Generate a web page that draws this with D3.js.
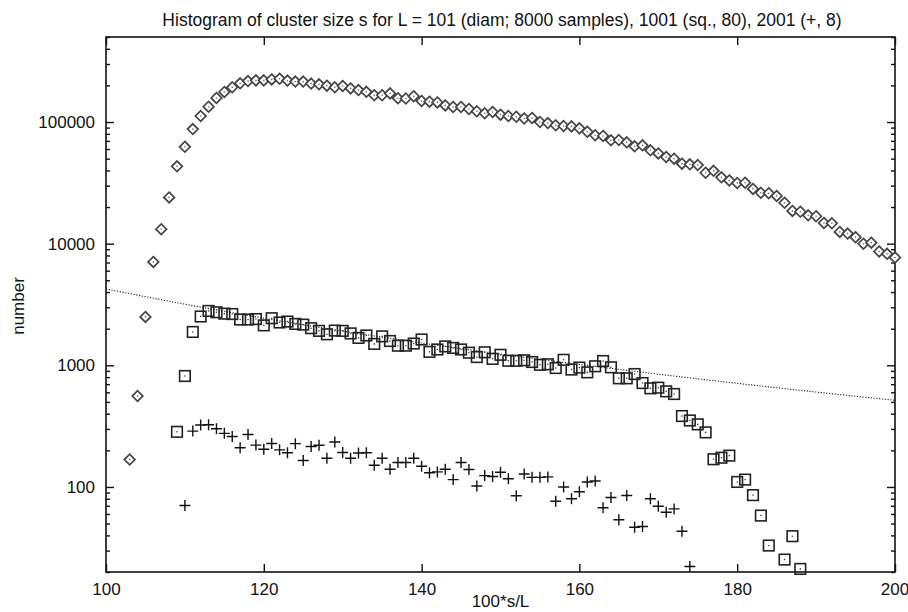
<!DOCTYPE html>
<html>
<head>
<meta charset="utf-8">
<script src="https://cdn.jsdelivr.net/npm/d3@7"></script>
<style>
body { margin: 0; background: #fff; }
text { font-family: "Liberation Sans", Arial, sans-serif; fill: #111; }
</style>
</head>
<body>
<svg id="chart" width="908" height="612"></svg>
<script>
// L = 101, diamonds, s from 103 to 200
var diamFirst = 103;
var diamN = [168, 559, 2500, 7080, 13150, 24000, 43200, 62600, 87500, 112000,
    133600, 157700, 176700, 193000, 208000, 217000, 220000, 220000, 224000, 227000,
    219000, 215000, 215000, 207000, 204000, 199000, 193000, 198000, 189000, 183000,
    177000, 166000, 166000, 172000, 157000, 156000, 163000, 149000, 147000, 145000,
    137000, 133000, 133000, 128000, 122500, 118000, 121000, 115000, 112000, 110500,
    107000, 108000, 100000, 98000, 94000, 92700, 92100, 88700, 83200, 77800,
    76800, 70700, 71100, 68100, 63100, 64300, 58500, 55200, 51600, 50000,
    45500, 44900, 44300, 38300, 39700, 35100, 33100, 31500, 31700, 28200,
    26200, 26000, 24700, 21700, 18600, 18300, 17100, 16800, 14800, 14700,
    12500, 12100, 11300, 10000, 10200, 8630, 8250, 7700];

// L = 1001, squares, s from 109 to 188 (185 empty)
var sqFirst = 109;
var sqN = [284, 817, 1880, 2520, 2800, 2730, 2660, 2640, 2380, 2380,
    2400, 2130, 2440, 2250, 2290, 2190, 2160, 2020, 1920, 1800,
    1930, 1920, 1830, 1680, 1760, 1500, 1730, 1585, 1450, 1450,
    1510, 1630, 1290, 1350, 1430, 1390, 1350, 1270, 1170, 1280,
    1130, 1220, 1090, 1090, 1100, 1065, 1010, 1020, 950, 1110,
    923, 958, 875, 982, 1085, 963, 782, 782, 848, 715,
    647, 655, 611, 581, 383, 352, 327, 281, 169, 174,
    181, 110, 115, 85.7, 58.2, 33, null, 25.3, 39.4, 21.2];

// L = 2001, crosses, s from 110 to 174
var plusFirst = 110;
var plusN = [70.4, 288, 323, 325, 301, 276, 260, 210, 270, 221,
    204, 228, 202, 191, 227, 165, 215, 220, 172, 234,
    192, 172, 190, 191, 151, 172, 140, 159, 159, 172,
    148, 131, 133, 140, 115, 159, 139, 102, 124, 122,
    132, 117, 84.7, 128, 120, 120, 121, 76.4, 100, 80,
    91.4, 110, 112, 67.4, 82, 53.7, 85, 46.7, 47.3, 80,
    69.5, 62, 66, 43.2, 22.2];

var fitS = [100, 110, 120, 130, 140, 150, 160, 170, 180, 190, 200];
var fitN = [4250, 3180, 2440, 1912, 1527, 1238, 1017, 846, 711, 603, 516];

var xTicks = [100, 120, 140, 160, 180, 200];

var titleText = "Histogram of cluster size s for L = 101 (diam; 8000 samples), 1001 (sq., 80), 2001 (+, 8)";

function toPoints(first, values) {
    return values.map(function(v, i) { return { s: first + i, n: v }; })
        .filter(function(d) { return d.n != null; });
}

var margin = { left: 106, top: 37, right: 13, bottom: 40 };
var width = 908 - margin.left - margin.right,
    height = 612 - margin.top - margin.bottom;

var svg = d3.select('#chart');
var vis = svg.append('g')
    .attr('transform', 'translate(' + margin.left + ',' + margin.top + ')');

var x = d3.scaleLinear().domain([100, 200]).range([0, width]);
var y = d3.scaleLog().domain([20, 500000]).range([height, 0]);

// y ticks: decades long, 2..9 short
var yAll = y.ticks().filter(function(v) { return v >= 20 && v <= 500000; });
function isDecade(v) { return Math.abs(Math.log10(v) - Math.round(Math.log10(v))) < 1e-9; }

var yLeft = vis.append('g').attr('class', 'axis')
    .call(d3.axisLeft(y).tickValues(yAll).tickSize(-8).tickPadding(11)
        .tickFormat(function(v) { return isDecade(v) ? d3.format('d')(v) : ''; }));
var yRight = vis.append('g').attr('class', 'axis')
    .attr('transform', 'translate(' + width + ',0)')
    .call(d3.axisRight(y).tickValues(yAll).tickSize(-8).tickFormat(''));
[yLeft, yRight].forEach(function(a) {
    a.selectAll('.tick line')
        .attr('x2', function(v) { return (isDecade(v) ? 8 : 4) * (a === yLeft ? 1 : -1); });
});

var xBottom = vis.append('g').attr('class', 'axis')
    .attr('transform', 'translate(0,' + height + ')')
    .call(d3.axisBottom(x).tickValues(xTicks).tickSize(-8).tickPadding(11).tickFormat(d3.format('d')));
var xTop = vis.append('g').attr('class', 'axis')
    .call(d3.axisTop(x).tickValues(xTicks).tickSize(-8).tickFormat(''));

// last label sits against the page edge
xBottom.selectAll('.tick text')
    .filter(function(v) { return v === 200; })
    .attr('text-anchor', 'end')
    .attr('dx', '0.8em');

vis.selectAll('.axis .domain').remove();
vis.selectAll('.axis .tick line').attr('stroke', '#111').attr('stroke-width', 1.4);
vis.selectAll('.axis text').attr('font-size', 17).style('font-family', '"Liberation Sans", Arial, sans-serif');

vis.append('rect')
    .attr('width', width).attr('height', height)
    .attr('fill', 'none').attr('stroke', '#111').attr('stroke-width', 1.6);

// fit line
var line = d3.line()
    .x(function(d) { return x(d.s); })
    .y(function(d) { return y(d.n); })
    .curve(d3.curveMonotoneX);
vis.append('path')
    .datum(fitS.map(function(s, i) { return { s: s, n: fitN[i] }; }))
    .attr('d', line)
    .attr('fill', 'none')
    .attr('stroke', '#222')
    .attr('stroke-width', 1.1)
    .attr('stroke-dasharray', '1.2,1.6');

var plot = vis.append('g');

// diamonds
plot.selectAll('path.diam')
    .data(toPoints(diamFirst, diamN))
  .enter().append('path')
    .attr('class', 'diam')
    .attr('d', 'M0,-5.3L5.3,0L0,5.3L-5.3,0Z')
    .attr('transform', function(d) { return 'translate(' + x(d.s) + ',' + y(d.n) + ')'; })
    .attr('fill', '#fff')
    .attr('stroke', '#444')
    .attr('stroke-width', 1.7);
plot.selectAll('circle.diam')
    .data(toPoints(diamFirst, diamN))
  .enter().append('circle')
    .attr('class', 'diam')
    .attr('cx', function(d) { return x(d.s); })
    .attr('cy', function(d) { return y(d.n); })
    .attr('r', 0.8)
    .attr('fill', '#666');

// squares
plot.selectAll('rect.sq')
    .data(toPoints(sqFirst, sqN))
  .enter().append('rect')
    .attr('class', 'sq')
    .attr('x', function(d) { return x(d.s) - 5.3; })
    .attr('y', function(d) { return y(d.n) - 5.3; })
    .attr('width', 10.6).attr('height', 10.6)
    .attr('fill', 'none')
    .attr('stroke', '#222')
    .attr('stroke-width', 1.6);
plot.selectAll('circle.sq')
    .data(toPoints(sqFirst, sqN))
  .enter().append('circle')
    .attr('class', 'sq')
    .attr('cx', function(d) { return x(d.s); })
    .attr('cy', function(d) { return y(d.n); })
    .attr('r', 0.8)
    .attr('fill', '#444');

// crosses
plot.selectAll('path.plus')
    .data(toPoints(plusFirst, plusN))
  .enter().append('path')
    .attr('class', 'plus')
    .attr('d', 'M-5.5,0H5.5M0,-5.5V5.5')
    .attr('transform', function(d) { return 'translate(' + x(d.s) + ',' + y(d.n) + ')'; })
    .attr('stroke', '#111')
    .attr('stroke-width', 1.4);

// texts
svg.append('text')
    .attr('x', 502).attr('y', 26)
    .attr('text-anchor', 'middle')
    .attr('font-size', 17.5)
    .text(titleText);
svg.append('text')
    .attr('x', margin.left + width / 2).attr('y', 607)
    .attr('text-anchor', 'middle')
    .attr('font-size', 17)
    .text('100*s/L');
svg.append('text')
    .attr('transform', 'translate(24,306) rotate(-90)')
    .attr('text-anchor', 'middle')
    .attr('font-size', 17)
    .text('number');
</script>
</body>
</html>
